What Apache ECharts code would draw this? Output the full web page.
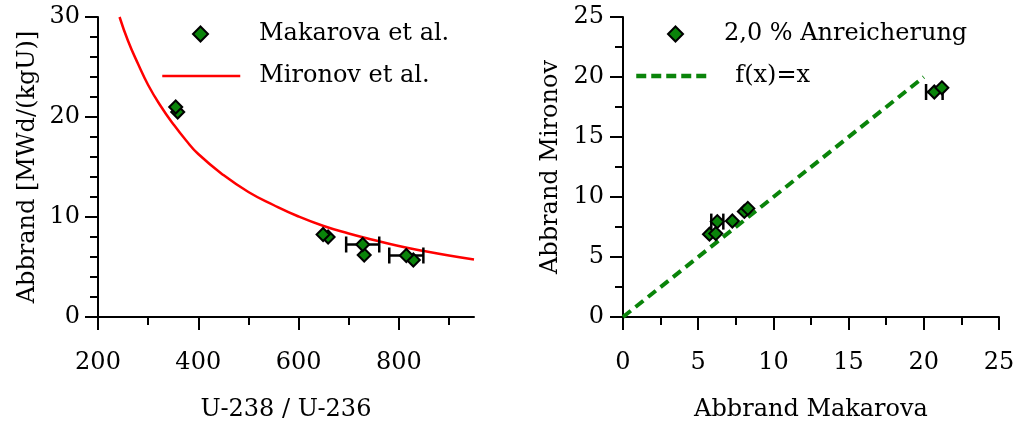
<!DOCTYPE html>
<html>
<head>
<meta charset="utf-8">
<script src="https://cdn.jsdelivr.net/npm/echarts@6/dist/echarts.min.js"></script>
<style>
  html, body { margin: 0; padding: 0; background: #fff; }
  #chart { width: 1017px; height: 425px; }
</style>
</head>
<body>
<div id="chart"></div>
<script>
// Left panel: burnup vs. isotope ratio U-238 / U-236
const makarovaRatio  = [359, 355, 659, 649, 731, 728, 829, 815];
const makarovaBurnup = [20.5, 21.0, 8.0, 8.25, 6.2, 7.25, 5.7, 6.15];
const makarovaErrX    = [728, 815];
const makarovaErrY    = [7.25, 6.15];
const makarovaErrHalf = [33, 34];

const mironovRatio  = [243, 260, 280, 300, 325, 350, 375, 400, 450, 500, 550, 600, 650, 700, 750, 800, 850, 900, 950];
const mironovBurnup = [30, 27.6, 25.3, 23.2, 21.1, 19.3, 17.7, 16.3, 14.2, 12.5, 11.2, 10.05, 9.1, 8.35, 7.7, 7.1, 6.6, 6.15, 5.75];

const leftXLabels = [200, 400, 600, 800];
const leftXMinor  = [300, 500, 700, 900];

// Right panel: Mironov burnup vs. Makarova burnup (2.0 % enrichment)
const compMakarova = [5.75, 6.17, 6.27, 7.27, 8.07, 8.3, 20.7, 21.2];
const compMironov  = [6.9, 6.95, 7.95, 8.0, 8.8, 9.05, 18.75, 19.1];
const compErrX     = [6.27, 20.7];
const compErrY     = [7.95, 18.75];
const compErrHalf  = [0.4, 0.55];

const identityX = [0, 20];
const identityY = [0, 20];

const FONT = 'DejaVu Serif';
const FS = 24;
const BLACK = '#000000';
const GREEN = '#0a840a';
const RED = '#ff0000';

const zip = (a, b) => a.map((v, i) => [v, b[i]]);
const errRows = (xs, ys, hs) => xs.map((x, i) => [x - hs[i], x + hs[i], ys[i]]);

// horizontal error bar with end caps
function renderErrBar(params, api) {
  const lo = api.coord([api.value(0), api.value(2)]);
  const hi = api.coord([api.value(1), api.value(2)]);
  const cap = 8;
  const st = { stroke: BLACK, lineWidth: 2.5 };
  return {
    type: 'group',
    children: [
      { type: 'line', shape: { x1: lo[0], y1: lo[1], x2: hi[0], y2: hi[1] }, style: st },
      { type: 'line', shape: { x1: lo[0], y1: lo[1] - cap, x2: lo[0], y2: lo[1] + cap }, style: st },
      { type: 'line', shape: { x1: hi[0], y1: hi[1] - cap, x2: hi[0], y2: hi[1] + cap }, style: st }
    ]
  };
}

const axisLineStyle = { lineStyle: { color: BLACK, width: 2 } };
const labelStyle = { color: BLACK, fontFamily: FONT, fontSize: FS };
const nameStyle = { color: BLACK, fontFamily: FONT, fontSize: FS };
const tickLine = { color: BLACK, width: 2 };
const markerStyle = { color: GREEN, borderColor: BLACK, borderWidth: 2, opacity: 1 };

function legendBox(left, top, itemWidth, itemHeight, textPad, entries) {
  return {
    orient: 'vertical', left: left, top: top, padding: 0,
    itemWidth: itemWidth, itemHeight: itemHeight, selectedMode: false,
    textStyle: { color: BLACK, fontFamily: FONT, fontSize: FS, padding: textPad },
    data: entries
  };
}

const chart = echarts.init(document.getElementById('chart'), null, { renderer: 'canvas' });

chart.setOption({
  animation: false,
  backgroundColor: '#ffffff',
  grid: [
    { left: 98, top: 17, width: 376, height: 300, containLabel: false, outerBoundsMode: 'none' },
    { left: 623, top: 17, width: 376, height: 300, containLabel: false, outerBoundsMode: 'none' }
  ],
  xAxis: [
    {
      gridIndex: 0, type: 'value', min: 200, max: 950, position: 'bottom',
      axisLine: axisLineStyle,
      axisTick: { show: true, customValues: leftXLabels, length: 13, lineStyle: tickLine },
      axisLabel: Object.assign({ customValues: leftXLabels, margin: 34 }, labelStyle),
      splitLine: { show: false },
      name: 'U-238 / U-236', nameLocation: 'middle', nameGap: 81, nameTextStyle: nameStyle
    },
    {
      gridIndex: 0, type: 'value', min: 200, max: 950, position: 'bottom',
      axisLine: { show: false },
      axisTick: { show: true, customValues: leftXMinor, length: 8, lineStyle: tickLine },
      axisLabel: { show: false },
      splitLine: { show: false }
    },
    {
      gridIndex: 1, type: 'value', min: 0, max: 25, interval: 5, position: 'bottom',
      axisLine: axisLineStyle,
      axisTick: { show: true, length: 13, lineStyle: tickLine },
      minorTick: { show: true, splitNumber: 2, length: 8, lineStyle: tickLine },
      axisLabel: Object.assign({ margin: 34 }, labelStyle),
      splitLine: { show: false },
      name: 'Abbrand Makarova', nameLocation: 'middle', nameGap: 81, nameTextStyle: nameStyle
    }
  ],
  yAxis: [
    {
      gridIndex: 0, type: 'value', min: 0, max: 30, interval: 10,
      axisLine: axisLineStyle,
      axisTick: { show: true, length: 13, lineStyle: tickLine },
      minorTick: { show: true, splitNumber: 5, length: 8, lineStyle: tickLine },
      axisLabel: Object.assign({ margin: 18 }, labelStyle),
      splitLine: { show: false },
      name: 'Abbrand [MWd/(kgU)]', nameLocation: 'middle', nameGap: 58, nameRotate: 90, nameTextStyle: nameStyle
    },
    {
      gridIndex: 1, type: 'value', min: 0, max: 25, interval: 5,
      axisLine: axisLineStyle,
      axisTick: { show: true, length: 13, lineStyle: tickLine },
      minorTick: { show: true, splitNumber: 2, length: 8, lineStyle: tickLine },
      axisLabel: Object.assign({ margin: 19 }, labelStyle),
      splitLine: { show: false },
      name: 'Abbrand Mironov', nameLocation: 'middle', nameGap: 60, nameRotate: 90, nameTextStyle: nameStyle
    }
  ],
  legend: [
    legendBox(192, 22, 15, 15, [8, 0, 0, 46], [{ name: 'Makarova et al.' }]),
    legendBox(161, 64, 78, 14, [4, 0, 0, 14], [{ name: 'Mironov et al.', itemStyle: { opacity: 0 },
      lineStyle: { color: RED, width: 2.5 } }]),
    legendBox(667, 22, 15, 15, [8, 0, 0, 36], [{ name: '2,0 % Anreicherung' }]),
    legendBox(634, 64, 72, 14, [4, 0, 0, 22], [{ name: 'f(x)=x', itemStyle: { opacity: 0 },
      lineStyle: { color: GREEN, width: 4.5, type: [10, 5] } }])
  ],
  series: [
    {
      name: 'Mironov et al.', type: 'line', xAxisIndex: 0, yAxisIndex: 0,
      data: zip(mironovRatio, mironovBurnup), smooth: true, symbol: 'none',
      lineStyle: { color: RED, width: 2.5 }, itemStyle: { color: RED }, z: 2
    },
    {
      type: 'custom', xAxisIndex: 0, yAxisIndex: 0,
      data: errRows(makarovaErrX, makarovaErrY, makarovaErrHalf),
      renderItem: renderErrBar, z: 3, silent: true
    },
    {
      name: 'Makarova et al.', type: 'scatter', xAxisIndex: 0, yAxisIndex: 0,
      data: zip(makarovaRatio, makarovaBurnup), symbol: 'diamond', symbolSize: 13,
      itemStyle: markerStyle, z: 4
    },
    {
      name: 'f(x)=x', type: 'line', xAxisIndex: 2, yAxisIndex: 1,
      data: zip(identityX, identityY), symbol: 'none',
      lineStyle: { color: GREEN, width: 4, type: [10, 6] }, itemStyle: { color: GREEN }, z: 2
    },
    {
      type: 'custom', xAxisIndex: 2, yAxisIndex: 1,
      data: errRows(compErrX, compErrY, compErrHalf),
      renderItem: renderErrBar, z: 3, silent: true
    },
    {
      name: '2,0 % Anreicherung', type: 'scatter', xAxisIndex: 2, yAxisIndex: 1,
      data: zip(compMakarova, compMironov), symbol: 'diamond', symbolSize: 13,
      itemStyle: markerStyle, z: 4
    }
  ]
});
</script>
</body>
</html>
